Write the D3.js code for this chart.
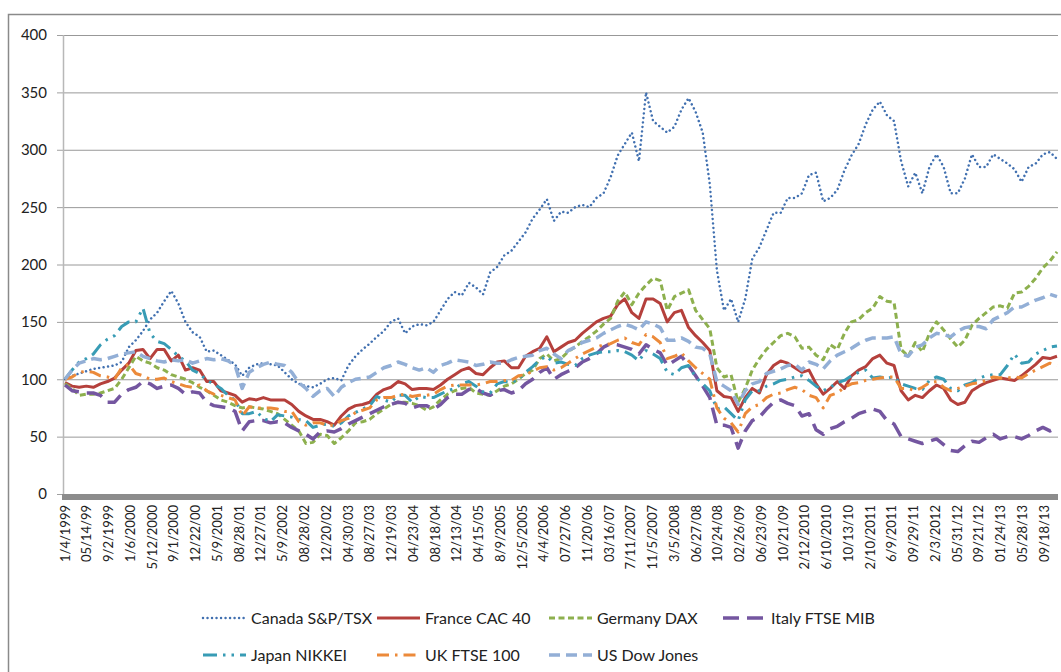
<!DOCTYPE html>
<html>
<head>
<meta charset="utf-8">
<script src="https://cdn.jsdelivr.net/npm/d3@7"></script>
<style>
  body { margin: 0; background: #fff; }
  svg { display: block; font-family: Lato, 'Open Sans', sans-serif; }
</style>
</head>
<body>
<svg id="chart" width="1061" height="672"></svg>
<script>
// category labels shown under the axis
const labels = ['1/4/1999', '05/14/99', '9/2/1999', '1/6/2000', '5/12/2000', '9/1/2000', '12/22/00',
  '5/9/2001', '08/28/01', '12/27/01', '5/9/2002', '08/28/02', '12/20/02', '04/30/03', '08/27/03',
  '12/19/03', '04/23/04', '08/18/04', '12/13/04', '04/15/05', '8/9/2005', '12/5/2005', '4/4/2006',
  '07/27/06', '11/20/06', '03/16/07', '7/11/2007', '11/5/2007', '3/5/2008', '06/27/08', '10/24/08',
  '02/26/09', '06/23/09', '10/21/09', '2/12/2010', '6/10/2010', '10/13/10', '2/10/2011', '6/9/2011',
  '09/29/11', '2/3/2012', '05/31/12', '09/21/12', '01/24/13', '05/28/13', '09/18/13'];

const yTicks = [0, 50, 100, 150, 200, 250, 300, 350, 400];

// index values (1/4/1999 = 100), read off roughly every third of a label step
const canada = [100,103,105,107,109,110,111,112,115,128,134,142,152,158,168,177,166,150,141,137,124,125,121,117,113,103,110,113,114,113,112,106,100,96,94,
  93,96,100,101,99,112,120,126,131,137,142,150,153,140,146,148,147,150,160,170,176,173,184,180,174,193,198,208,212,220,228,240,248,257,238,
  246,245,250,252,250,258,262,276,295,305,315,290,350,325,320,315,320,335,345,333,315,270,195,160,170,150,170,205,215,230,245,245,258,258,262,
  278,280,255,258,265,282,295,305,322,335,342,330,325,290,268,280,262,285,296,285,262,262,275,296,285,285,296,292,288,283,272,285,288,296,298,292];

const france = [97,94,93,94,93,96,98,101,108,114,125,126,118,126,126,116,121,108,110,108,98,98,90,88,86,80,83,82,84,82,82,82,78,72,68,
  65,65,63,60,68,74,77,78,80,87,91,93,98,96,91,92,92,91,95,100,104,108,110,105,104,110,115,116,110,110,120,124,127,137,124,
  128,132,134,140,145,150,153,155,165,170,158,153,170,170,166,150,158,160,145,138,132,125,90,85,84,72,84,92,88,104,112,116,114,110,106,
  108,96,87,92,98,92,103,108,111,118,121,114,112,90,82,86,84,90,95,92,82,78,80,90,94,97,99,101,100,99,103,108,113,119,118,120];

const germany = [96,92,86,87,87,88,90,92,100,110,120,116,114,110,108,104,102,100,97,93,90,86,82,80,77,75,76,75,74,72,70,65,60,55,44,
  45,52,51,44,49,55,62,63,65,70,74,78,80,80,79,77,73,76,82,87,90,92,93,88,87,86,90,94,96,100,105,108,118,122,116,
  118,124,128,133,137,142,148,153,168,176,165,175,182,188,186,160,172,175,178,160,152,144,110,102,104,80,92,108,118,126,132,138,140,137,127,
  128,121,117,130,126,140,150,152,158,162,172,168,167,126,120,132,124,140,150,143,135,128,134,147,153,158,163,164,162,175,176,181,188,197,203,211];

const italy = [95,90,89,88,88,86,80,80,87,91,93,98,96,92,94,95,92,87,89,88,80,77,76,75,72,55,63,64,64,62,63,62,58,55,52,
  48,54,55,54,57,61,64,67,70,73,76,78,80,79,75,77,77,74,78,84,87,87,91,92,88,86,90,91,88,90,96,100,106,110,100,
  104,107,110,115,118,122,128,131,130,128,126,122,130,126,123,112,116,120,112,103,94,84,60,60,58,40,55,64,67,74,80,82,79,77,68,
  70,56,52,57,59,63,66,70,72,74,72,64,61,50,48,46,44,46,48,43,38,37,42,46,45,49,52,48,50,50,48,51,55,58,55,58];

const japan = [100,108,115,118,122,130,135,138,146,150,150,162,140,133,131,126,120,116,108,105,99,96,92,86,82,70,70,72,66,63,69,68,67,65,64,
  58,60,61,59,62,68,71,74,77,85,82,80,86,86,80,85,84,84,87,90,92,96,98,94,89,88,96,98,97,100,106,111,117,120,114,
  115,113,112,118,121,123,124,124,125,124,121,116,125,122,118,106,104,110,112,102,96,90,74,76,70,64,82,90,90,94,96,99,100,102,103,
  99,94,90,93,97,99,103,106,108,101,102,101,102,96,94,92,91,99,102,100,92,90,95,97,101,103,104,104,112,122,114,115,122,125,128,129];

const uk = [100,102,106,107,106,103,102,100,110,113,105,103,100,100,101,98,96,94,93,95,90,87,86,84,82,68,76,75,75,75,74,72,72,63,60,
  62,62,60,60,64,66,71,73,75,82,84,84,86,87,85,86,86,87,91,94,95,95,95,95,96,98,98,99,99,103,104,107,110,111,108,
  110,114,118,122,125,128,130,131,134,136,132,130,139,137,132,118,120,123,116,110,105,100,75,66,62,54,70,76,78,84,87,88,91,93,91,
  86,84,75,86,88,93,96,97,99,100,101,102,102,92,92,90,93,97,98,93,90,92,94,96,97,99,102,101,101,102,101,105,108,111,114,112];

const us = [100,108,114,116,118,117,118,120,122,123,124,120,118,116,115,117,116,117,114,116,118,117,118,116,112,92,106,110,113,115,113,112,106,97,92,
  85,90,92,85,93,97,100,101,102,106,110,112,115,113,110,108,110,106,112,114,117,116,115,112,113,115,114,114,117,119,120,121,125,127,122,
  118,125,128,132,134,136,140,143,146,148,146,143,150,148,145,134,134,136,133,128,127,122,98,94,90,78,90,96,98,105,107,109,112,113,108,
  115,113,109,116,121,124,127,131,134,136,136,136,137,122,120,128,130,136,140,139,137,142,145,146,146,144,152,155,158,163,163,166,169,171,174,172];

const series = [
  { name: 'Canada S&P/TSX', values: canada,  color: '#4170b0', width: 2.5, dash: '0.01,4.5', cap: 'round' },
  { name: 'France CAC 40',  values: france,  color: '#b5403c', width: 3,   dash: null,       cap: 'butt' },
  { name: 'Germany DAX',    values: germany, color: '#8db04e', width: 3,   dash: '6,3.5',    cap: 'butt' },
  { name: 'Italy FTSE MIB', values: italy,   color: '#7456a0', width: 3.5, dash: '16,8',     cap: 'butt' },
  { name: 'Japan NIKKEI',   values: japan,   color: '#389cb5', width: 3,   dash: '14,6,2.5,6,2.5,6', cap: 'butt' },
  { name: 'UK FTSE 100',    values: uk,      color: '#ec8a3a', width: 3,   dash: '12,6,2.5,6', cap: 'butt' },
  { name: 'US Dow Jones',   values: us,      color: '#93afd6', width: 3.5, dash: '11,6',     cap: 'butt' },
];

const svg = d3.select('#chart');

const plotLeft = 63, plotRight = 1058, plotTop = 35, plotBottom = 494;

// chart area border (right and bottom edges are cut off in the picture)
svg.append('rect')
  .attr('x', 8.5).attr('y', 14.5)
  .attr('width', 1100).attr('height', 700)
  .attr('fill', 'none')
  .attr('stroke', '#8a8a8a')
  .attr('stroke-width', 1.5);

const y = d3.scaleLinear().domain([0, 400]).range([plotBottom, plotTop]);
// label i sits at position i; data keeps going a bit past the last label
const x = d3.scaleLinear().domain([0, labels.length - 1]).range([65, 1044]);
const xEnd = x.invert(1057);

// gridlines + y ticks
const grid = svg.append('g');
grid.selectAll('line.grid')
  .data(yTicks.filter((t) => t > 0))
  .enter()
  .append('line')
  .attr('class', 'grid')
  .attr('x1', plotLeft).attr('x2', plotRight)
  .attr('y1', (d) => y(d) + 0.5).attr('y2', (d) => y(d) + 0.5)
  .attr('stroke', '#989898')
  .attr('stroke-width', 1);

grid.selectAll('line.tick')
  .data(yTicks)
  .enter()
  .append('line')
  .attr('class', 'tick')
  .attr('x1', 57).attr('x2', plotLeft)
  .attr('y1', (d) => y(d) + 0.5).attr('y2', (d) => y(d) + 0.5)
  .attr('stroke', '#a0a0a0');

grid.selectAll('text')
  .data(yTicks)
  .enter()
  .append('text')
  .attr('x', 47)
  .attr('y', (d) => y(d))
  .attr('dy', '0.36em')
  .attr('text-anchor', 'end')
  .attr('font-size', 15)
  .attr('fill', '#222')
  .text((d) => d);

// y axis line
svg.append('line')
  .attr('x1', plotLeft + 0.5).attr('x2', plotLeft + 0.5)
  .attr('y1', plotTop).attr('y2', plotBottom)
  .attr('stroke', '#b8b8b8')
  .attr('stroke-width', 1.5);

// series lines
const line = d3.line()
  .x((d, i, arr) => x(i * xEnd / (arr.length - 1)))
  .y((d) => y(d));

svg.append('g')
  .selectAll('path')
  .data(series)
  .enter()
  .append('path')
  .attr('d', (d) => line(d.values))
  .attr('fill', 'none')
  .attr('stroke', (d) => d.color)
  .attr('stroke-width', (d) => d.width)
  .attr('stroke-dasharray', (d) => d.dash)
  .attr('stroke-linecap', (d) => d.cap)
  .attr('stroke-linejoin', 'round');

// thick category axis bar
svg.append('line')
  .attr('x1', 62).attr('x2', plotRight)
  .attr('y1', plotBottom + 3).attr('y2', plotBottom + 3)
  .attr('stroke', '#8c8c8c')
  .attr('stroke-width', 6);

// rotated date labels
svg.append('g')
  .selectAll('text')
  .data(labels)
  .enter()
  .append('text')
  .attr('transform', (d, i) => `translate(${x(i)},505) rotate(-90)`)
  .attr('dy', '0.36em')
  .attr('text-anchor', 'end')
  .attr('font-size', 13)
  .attr('fill', '#222')
  .text((d) => d);

// legend, two rows
const legendCols = [203, 377, 549, 723];
const legend = svg.append('g')
  .selectAll('g')
  .data(series)
  .enter()
  .append('g')
  .attr('transform', (d, i) => `translate(${legendCols[i % 4]},${i < 4 ? 618 : 655})`);

legend.append('line')
  .attr('x1', 0).attr('x2', 43)
  .attr('y1', 0).attr('y2', 0)
  .attr('stroke', (d) => d.color)
  .attr('stroke-width', (d) => d.width)
  .attr('stroke-dasharray', (d) => d.dash)
  .attr('stroke-linecap', (d) => d.cap);

legend.append('text')
  .attr('x', 48)
  .attr('dy', '0.36em')
  .attr('font-size', 16)
  .attr('fill', '#222')
  .text((d) => d.name);
</script>
</body>
</html>
